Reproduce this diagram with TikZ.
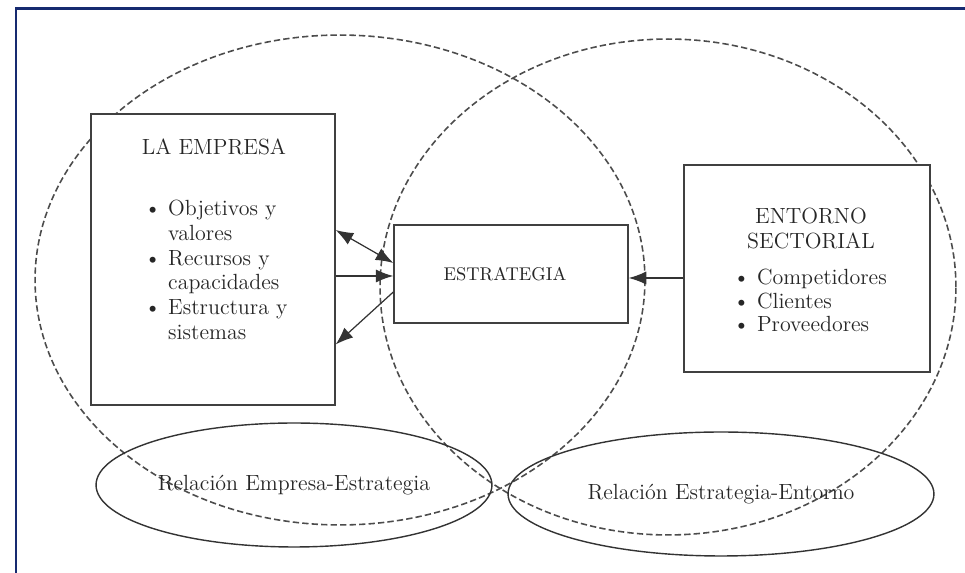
\documentclass[tikz,border=0pt]{standalone}
\usepackage{tikz}
\usetikzlibrary{arrows.meta,positioning,shapes.geometric}
\definecolor{marco}{RGB}{22,42,112}
\tikzset{
  texto/.style={font=\fontsize{12.5}{14.2}\selectfont, text=black!85},
  caja/.style={draw=black!75, line width=0.8pt, fill=white, inner sep=0pt},
  circulo/.style={draw=black!70, line width=0.9pt, dash pattern=on 3.6pt off 1.8pt},
  relacion/.style={ellipse, draw=black!80, line width=0.8pt, inner sep=0pt, texto},
  flecha/.style={draw=black!80, line width=0.7pt, -{Latex[length=10pt,width=7.5pt]}}
}
\begin{document}
\begin{tikzpicture}[x=0.02cm, y=-0.02cm]
            \useasboundingbox (0,0) rectangle (965,573);
            \draw[marco, line width=0.06cm] (16,573) -- (16,9) -- (965,9);

            \draw[circulo] (340,280) ellipse (6.1cm and 4.9cm);
            \draw[circulo] (668,287) ellipse (5.76cm and 4.96cm);

            \draw (213,259.5) node[caja, minimum width=4.88cm, minimum height=5.82cm] (emp) {};
            \draw (511,274) node[caja, minimum width=4.68cm, minimum height=1.96cm] (estr) {};
            \draw (807,268.5) node[caja, minimum width=4.92cm, minimum height=4.14cm] (ent) {};

            \draw (214,147) node[texto] (emptit) {LA EMPRESA};
            \draw (216,272.5) node[texto] (emplista) {\begin{tabular}{@{}l@{\hspace{4pt}}l@{}}
              \textbullet & Objetivos y\\ & valores\\
              \textbullet & Recursos y\\ & capacidades\\
              \textbullet & Estructura y\\ & sistemas
            \end{tabular}};
            \draw (estr) node[texto, font=\fontsize{10.5}{12}\selectfont, xshift=-0.12cm] (estrtit) {ESTRATEGIA};
            \draw (811,228.5) node[texto, align=center] (enttit) {ENTORNO\\SECTORIAL};
            \draw (810,303.5) node[texto] (entlista) {\def\arraystretch{0.94}\begin{tabular}{@{}l@{\hspace{4pt}}l@{}}
              \textbullet & Competidores\\
              \textbullet & Clientes\\
              \textbullet & Proveedores
            \end{tabular}};

            \draw[flecha, {Latex[length=10pt,width=7.5pt]}-{Latex[length=10pt,width=7.5pt]}] ([yshift=0.59cm]emp.east) -- ([yshift=0.22cm]estr.west);
            \draw[flecha] (emp.east |- 0,276) -- (estr.west |- 0,276);
            \draw[flecha] ([yshift=-0.36cm]estr.west) -- ([yshift=-1.7cm]emp.east);
            \draw[flecha] (ent.west |- 0,278) -- (estr.east |- 0,278);

            \draw (294,485) node[relacion, minimum width=7.92cm, minimum height=2.48cm] (rel1) {Relación Empresa-Estrategia};
            \draw (721,494) node[relacion, minimum width=8.52cm, minimum height=2.48cm] (rel2) {Relación Estrategia-Entorno};
\end{tikzpicture}
\end{document}
